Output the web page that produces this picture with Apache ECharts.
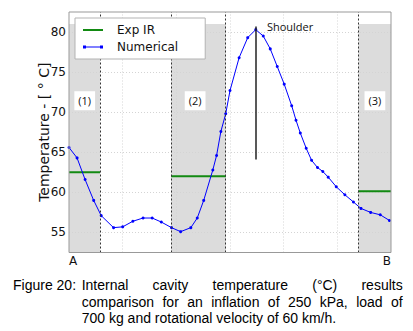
<!DOCTYPE html>
<html>
<head>
<meta charset="utf-8">
<script src="https://cdn.jsdelivr.net/npm/echarts@6/dist/echarts.min.js"></script>
<style>
  html, body { margin: 0; padding: 0; background: #fff; overflow: hidden; }
  #main { width: 413px; height: 331px; }
  .cap { position: absolute; left: 13px; top: 277px; font: 14px/16.7px "Liberation Sans", Arial, sans-serif; color: #000; }
  .j { text-align: justify; text-align-last: justify; }
</style>
</head>
<body>
<div id="main"></div>
<div class="cap">
  <div style="position:absolute;left:0;top:0;white-space:nowrap">Figure 20:</div>
  <div style="position:absolute;left:68.7px;top:0;width:321px">
    <div class="j">Internal cavity temperature (°C) results</div>
    <div class="j">comparison for an inflation of 250 kPa, load of</div>
    <div style="white-space:nowrap">700 kg and rotational velocity of 60 km/h.</div>
  </div>
</div>
<script>
// position along the section, A = 0 ... B = 6
const numX = [0.00, 0.15, 0.30, 0.46, 0.60, 0.83, 1.00, 1.19, 1.38, 1.55, 1.72, 1.91, 2.08, 2.27, 2.39,
  2.51, 2.68, 2.75, 2.83, 2.92, 3.00, 3.17, 3.33, 3.48, 3.62, 3.75, 3.88, 4.01, 4.15, 4.23,
  4.31, 4.42, 4.52, 4.63, 4.73, 4.83, 4.98, 5.14, 5.30, 5.44, 5.62, 5.80, 5.97];
const numY = [65.6, 64.3, 61.6, 59.0, 57.1, 55.6, 55.7, 56.4, 56.8, 56.8, 56.3, 55.6, 55.1, 55.6, 56.8,
  59.0, 62.8, 64.6, 67.6, 69.8, 72.7, 76.8, 79.3, 80.3, 79.5, 77.9, 75.7, 73.5, 70.8, 69.0,
  67.4, 65.5, 64.0, 63.1, 62.6, 61.9, 60.7, 59.7, 58.8, 58.0, 57.5, 57.2, 56.5];

// measured zones (1), (2), (3)
const zoneNames = ["(1)", "(2)", "(3)"];
const zoneStart = [0, 1.903, 5.392];
const zoneEnd = [0.578, 2.924, 6];
const expIR = [62.5, 62.0, 60.15];
const zoneLabelX = [0.293, 2.35, 5.70];
const zoneTop = 81;

const yTicks = [55, 60, 65, 70, 75, 80];
const xGrid = [1, 2, 3, 4, 5];

const shoulderX = 3.483;
const shoulderFrom = 64.1;
const shoulderTo = 80.7;

const FONT = "DejaVu Sans";
const dashed = { color: "#333", width: 1, type: [2, 2] };

let myChart = echarts.init(document.getElementById("main"), null, { renderer: "svg" });

let expSeries = expIR.map((v, i) => ({
  name: "Exp IR",
  type: "line",
  z: 3,
  symbol: "none",
  silent: true,
  color: "#128a12",
  lineStyle: { color: "#128a12", width: 2 },
  data: [[zoneStart[i], v], [zoneEnd[i], v]]
}));

let option = {
  animation: false,
  grid: {
    left: 69,
    right: 22,
    top: 12,
    bottom: 78.5,
    show: true,
    z: 10,
    backgroundColor: "transparent",
    borderColor: "#999",
    borderWidth: 1
  },
  legend: {
    orient: "vertical",
    left: 75,
    top: 18,
    padding: [6, 27, 6, 8],
    itemGap: 5,
    itemWidth: 20,
    itemHeight: 14,
    backgroundColor: "#fff",
    borderColor: "#b3b3b3",
    borderWidth: 1,
    z: 12,
    textStyle: { fontFamily: FONT, fontSize: 12, color: "#111", padding: [0, 0, 0, 9] },
    data: [
      { name: "Exp IR", icon: "path://M0,0h20v2h-20z" },
      { name: "Numerical", icon: "path://M0,0h3v3h-3zM3,1h14v1h-14zM17,0h3v3h-3z" }
    ]
  },
  xAxis: {
    type: "value",
    min: 0,
    max: 6,
    interval: 1,
    axisLine: { show: false },
    axisTick: { show: false },
    splitLine: { show: false },
    axisLabel: {
      margin: 2,
      fontFamily: FONT,
      fontSize: 12,
      color: "#111",
      alignMinLabel: "left",
      alignMaxLabel: "right",
      formatter: v => (v === 0 ? "A" : v === 6 ? "B" : "")
    }
  },
  yAxis: {
    type: "value",
    min: 52.5,
    max: 82.5,
    interval: 2.5,
    name: "Temperature - [ ° C]",
    nameLocation: "middle",
    nameGap: 18,
    nameMoveOverlap: false,
    nameTextStyle: { fontFamily: FONT, fontSize: 14, color: "#111" },
    axisLine: { show: false },
    axisTick: { show: false },
    splitLine: { show: false },
    axisLabel: {
      margin: 3,
      fontFamily: FONT,
      fontSize: 12,
      color: "#111",
      formatter: v => (v % 5 === 0 ? String(v) : "")
    }
  },
  series: [
    {
      name: "bg",
      type: "line",
      z: 1,
      data: [],
      silent: true,
      markArea: {
        silent: true,
        itemStyle: { color: "#dcdcdc" },
        data: zoneStart.map((s, i) => [{ xAxis: s, yAxis: 52.5 }, { xAxis: zoneEnd[i], yAxis: zoneTop }])
      },
      markLine: {
        silent: true,
        symbol: "none",
        z: 2,
        label: { show: false },
        lineStyle: { color: "#d4d4d4", width: 1, type: [1, 2] },
        data: yTicks.map(v => ({ yAxis: v })).concat(xGrid.map(v => ({ xAxis: v })))
      }
    },
    ...expSeries,
    {
      name: "Numerical",
      type: "line",
      z: 4,
      color: "#0000ff",
      symbol: "circle",
      symbolSize: 3,
      showAllSymbol: true,
      lineStyle: { color: "#0000ff", width: 1 },
      itemStyle: { color: "#0000ff" },
      data: numX.map((x, i) => [x, numY[i]])
    },
    {
      name: "notes",
      type: "line",
      z: 5,
      data: [],
      silent: true,
      markLine: {
        silent: true,
        symbol: "none",
        label: { show: false },
        data: [zoneEnd[0], zoneStart[1], zoneEnd[1], zoneStart[2]].map(v => ({ xAxis: v, lineStyle: dashed }))
          .concat([[{ coord: [shoulderX, shoulderFrom], lineStyle: { color: "#222", width: 1.5, type: "solid" } },
                    { coord: [shoulderX, shoulderTo] }]])
      },
      markPoint: {
        silent: true,
        symbolSize: 0,
        data: zoneNames.map((n, i) => ({
          coord: [zoneLabelX[i], 71.43],
          label: {
            show: true,
            position: "inside",
            formatter: n,
            fontFamily: "Open Sans",
            fontSize: 11,
            color: "#111",
            backgroundColor: "#fff",
            padding: [4, 4, 4, 4]
          }
        })).concat([{
          coord: [shoulderX, shoulderTo],
          label: {
            show: true,
            position: "right",
            distance: 11,
            formatter: "Shoulder",
            fontFamily: "Open Sans",
            fontSize: 11,
            color: "#111"
          }
        }])
      }
    }
  ]
};
myChart.setOption(option, true);
</script>
</body>
</html>
